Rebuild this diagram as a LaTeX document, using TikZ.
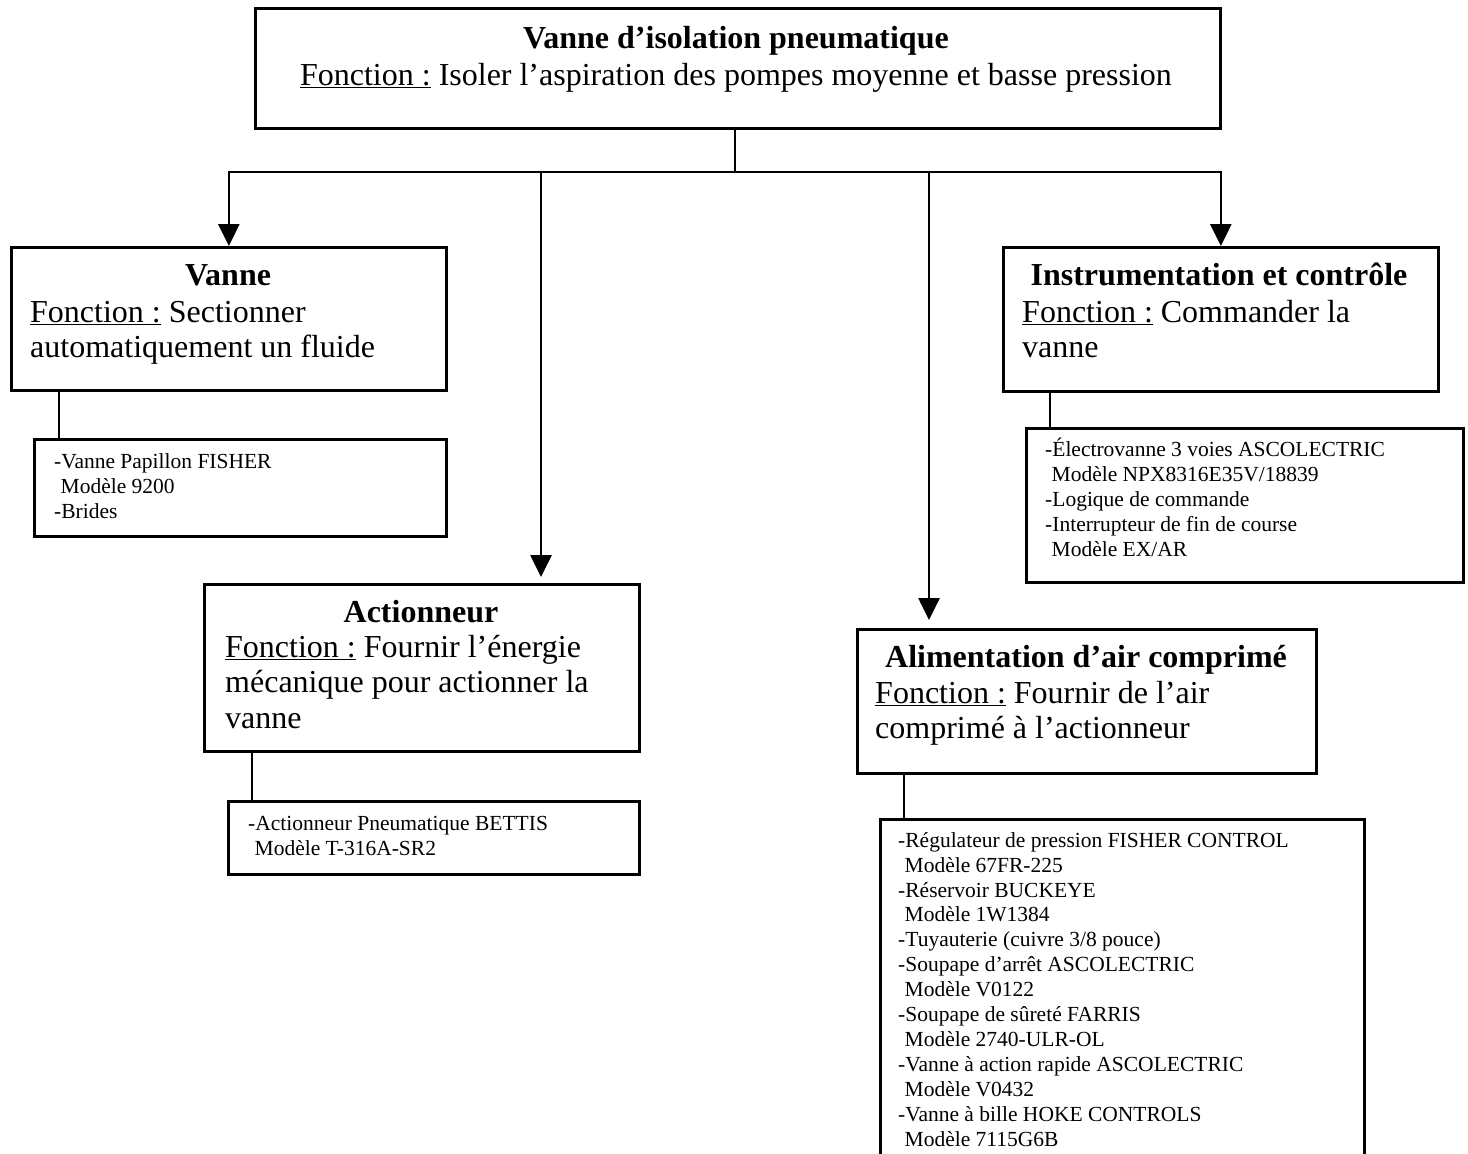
\documentclass[tikz,border=0pt]{standalone}
\usepackage{fontspec}
\setmainfont{Liberation Serif}
\usetikzlibrary{arrows.meta}
\newcommand\bigtxt{\fontsize{32}{35.8}\selectfont}
\newcommand\smalltxt{\fontsize{21.5}{24.9}\selectfont}
\newcommand\fct{\underline{Fonction :}}
\newcommand\ind{\hspace*{0.3em}}
\begin{document}
\begin{tikzpicture}[x=1pt, y=-1pt,
  box/.style={draw, line width=2.7pt, inner sep=0pt, anchor=north west},
  title/.style={font=\bigtxt\bfseries, inner sep=0pt, anchor=base},
  body/.style={font=\bigtxt, inner sep=0pt, anchor=base west, align=left},
  list/.style={font=\smalltxt, inner sep=0pt, anchor=base west, align=left},
  conn/.style={line width=2.7pt},
  arr/.style={conn, -{Triangle[length=22pt, width=21pt]}}]
\useasboundingbox (0,0) rectangle (1468,1154);
\clip (0,0) rectangle (1468,1154);
% multi-line texts are placed by the baseline of their last line

% main function box
\node[box, minimum width=965pt, minimum height=120pt] (top) at (254,7) {};
\node[title] (topT) at (736,48) {Vanne d’isolation pneumatique};
\node[font=\bigtxt, inner sep=0pt, anchor=base] (topF) at (736,85)
  {\fct{} Isoler l’aspiration des pompes moyenne et basse pression};

% sub-function boxes
\node[box, minimum width=435pt, minimum height=143pt] (vanne) at (10,246) {};
\node[title] (vanneT) at (228,285) {Vanne};
\node[body] (vanneF) at (30,357.8) {\fct{} Sectionner\\automatiquement un fluide};

\node[box, minimum width=435pt, minimum height=144pt] (inst) at (1002,246) {};
\node[title] (instT) at (1219,285) {Instrumentation et contrôle};
\node[body] (instF) at (1022,357.8) {\fct{} Commander la\\vanne};

\node[box, minimum width=435pt, minimum height=167pt] (act) at (203,583) {};
\node[title] (actT) at (421,622) {Actionneur};
\node[body] (actF) at (225,728.6) {\fct{} Fournir l’énergie\\mécanique pour actionner la\\vanne};

\node[box, minimum width=459pt, minimum height=144pt] (alim) at (856,628) {};
\node[title] (alimT) at (1086,667) {Alimentation d’air comprimé};
\node[body] (alimF) at (875,738.8) {\fct{} Fournir de l’air\\comprimé à l’actionneur};

% component lists
\node[box, minimum width=412pt, minimum height=97pt] (vanneL) at (33,438) {};
\node[list] (vanneLT) at (54,518)
  {-Vanne Papillon FISHER\\\ind Modèle 9200\\-Brides};

\node[box, minimum width=437pt, minimum height=154pt] (instL) at (1025,427) {};
\node[list] (instLT) at (1045,556)
  {-Électrovanne 3 voies ASCOLECTRIC\\\ind Modèle NPX8316E35V/18839\\-Logique de commande\\-Interrupteur de fin de course\\\ind Modèle EX/AR};

\node[box, minimum width=411pt, minimum height=73pt] (actL) at (227,800) {};
\node[list] (actLT) at (248,855)
  {-Actionneur Pneumatique BETTIS\\\ind Modèle T-316A-SR2};

\node[box, minimum width=484pt, minimum height=370pt] (alimL) at (879,818) {};
\node[list] (alimLT) at (898,1146)
  {-Régulateur de pression FISHER CONTROL\\\ind Modèle 67FR-225\\-Réservoir BUCKEYE\\\ind Modèle 1W1384\\-Tuyauterie (cuivre 3/8 pouce)\\-Soupape d’arrêt ASCOLECTRIC\\\ind Modèle V0122\\-Soupape de sûreté FARRIS\\\ind Modèle 2740-ULR-OL\\-Vanne à action rapide ASCOLECTRIC\\\ind Modèle V0432\\-Vanne à bille HOKE CONTROLS\\\ind Modèle 7115G6B};

% distribution lines
\coordinate (bus) at (735,172);
\coordinate (actIn) at (541,577);
\coordinate (alimIn) at (929,620);
\draw[conn] (top.south -| bus) -- (bus);
\draw[arr] (bus) -| (vanne.north);
\draw[arr] (bus) -| (inst.north);
\draw[arr] (actIn |- bus) -- (actIn);
\draw[arr] (alimIn |- bus) -- (alimIn);

% links to component lists
\draw[conn] ([xshift=49pt]vanne.south west) -- ([xshift=49pt]vanne.south west |- vanneL.north);
\draw[conn] ([xshift=48pt]inst.south west) -- ([xshift=48pt]inst.south west |- instL.north);
\draw[conn] ([xshift=49pt]act.south west) -- ([xshift=49pt]act.south west |- actL.north);
\draw[conn] ([xshift=48pt]alim.south west) -- ([xshift=48pt]alim.south west |- alimL.north);
\end{tikzpicture}
\end{document}
